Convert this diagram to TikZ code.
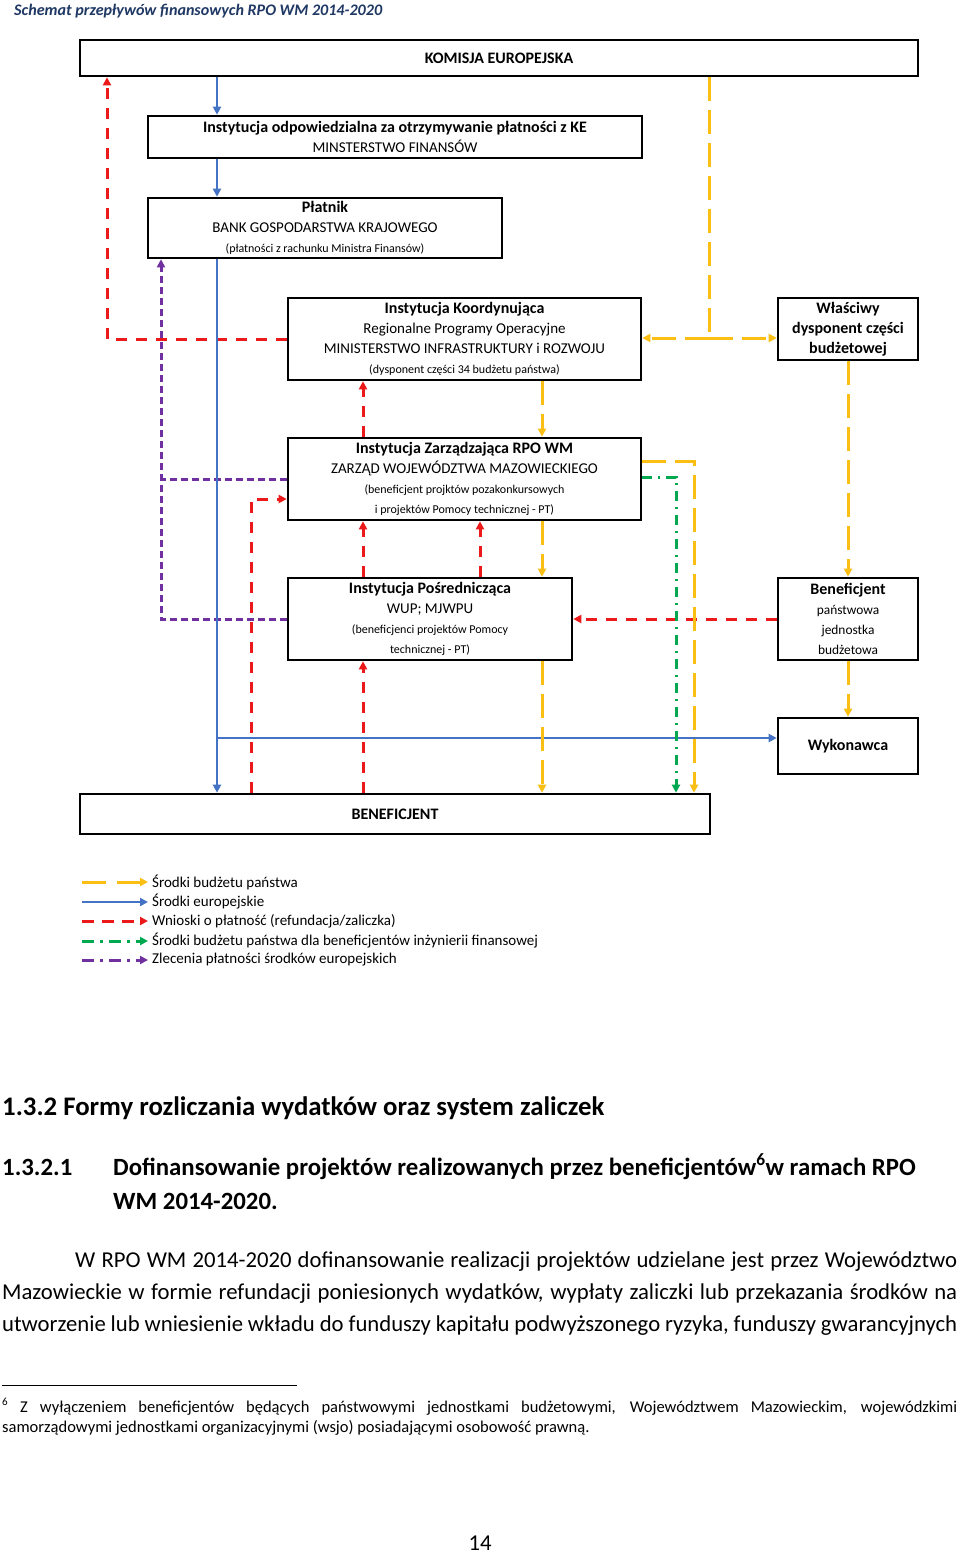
\documentclass[tikz,border=0pt]{standalone}
\usepackage{fontspec}
\setmainfont{Carlito}
\usetikzlibrary{arrows.meta}
\definecolor{cblue}{RGB}{68,114,196}
\definecolor{cred}{RGB}{235,25,25}
\definecolor{cyel}{RGB}{250,190,20}
\definecolor{cgreen}{RGB}{0,168,80}
\definecolor{cpurp}{RGB}{112,48,160}
\definecolor{cnavy}{RGB}{31,56,100}
\newcommand\dgB{\fontsize{16}{20}\selectfont\bfseries}
\newcommand\dgR{\fontsize{15}{20}\selectfont}
\newcommand\dgM{\fontsize{13.4}{20}\selectfont}
\newcommand\dgS{\fontsize{12}{20}\selectfont}
\newcommand\bodyf{\fontsize{22.7}{32}\selectfont}
\newcommand\headf{\fontsize{26.8}{34}\selectfont\bfseries}
\newcommand\headg{\fontsize{24.8}{34}\selectfont\bfseries}
\newcommand\footf{\fontsize{16.5}{20}\selectfont}
\begin{document}
\begin{tikzpicture}[x=1pt,y=-1pt,
  box/.style={draw=black, line width=2.6pt, inner sep=0pt, align=center, font=\dgR},
  tipA/.style={-{Triangle[length=8pt,width=8pt]}},
  eu/.style={cblue, line width=2.4pt, tipA},
  wn/.style={cred, line width=3pt, dash pattern=on 11pt off 9pt, tipA},
  bp/.style={cyel, line width=3pt, dash pattern=on 24pt off 9pt, tipA},
  bif/.style={cgreen, line width=3pt, dash pattern=on 10pt off 6pt on 2pt off 6pt, tipA},
  zp/.style={cpurp, line width=3pt, dash pattern=on 7pt off 4pt, tipA},
  leg/.style={anchor=west, inner sep=0pt, font=\fontsize{15}{18}\selectfont},
  txt/.style={anchor=base west, inner sep=0pt},
]
\fill[white] (0,0) rectangle (960,1553);
\useasboundingbox (0,0) rectangle (960,1553);

% title
\node[txt, font=\fontsize{16.1}{20}\selectfont\bfseries\itshape, text=cnavy] (title) at (14,15) {Schemat przepływów finansowych RPO WM 2014-2020};

% boxes
\node[box, minimum width=838pt, minimum height=36pt, font=\dgB] (ke) at (499,58) {KOMISJA EUROPEJSKA};
\node[box, minimum width=494pt, minimum height=42pt] (io) at (395,137) {{\dgB Instytucja odpowiedzialna za otrzymywanie płatności z KE}\\MINSTERSTWO FINANSÓW};
\node[box, minimum width=354pt, minimum height=60pt] (pl) at (325,228) {{\dgB Płatnik}\\BANK GOSPODARSTWA KRAJOWEGO\\{\dgS (płatności z rachunku Ministra Finansów)}};
\node[box, minimum width=353pt, minimum height=82pt] (ik) at (464.5,339) {{\dgB Instytucja Koordynująca}\\Regionalne Programy Operacyjne\\MINISTERSTWO INFRASTRUKTURY i ROZWOJU\\{\dgS (dysponent części 34 budżetu państwa)}};
\node[box, minimum width=140pt, minimum height=62pt, font=\dgB] (wd) at (848,329) {Właściwy\\dysponent części\\budżetowej};
\node[box, minimum width=353pt, minimum height=82pt] (iz) at (464.5,479) {{\dgB Instytucja Zarządzająca RPO WM}\\ZARZĄD WOJEWÓDZTWA MAZOWIECKIEGO\\{\dgS (beneficjent projktów pozakonkursowych}\\{\dgS i projektów Pomocy technicznej - PT)}};
\node[box, minimum width=284pt, minimum height=82pt] (ip) at (430,619) {{\dgB Instytucja Pośrednicząca}\\WUP; MJWPU\\{\dgS (beneficjenci projektów Pomocy}\\{\dgS technicznej - PT)}};
\node[box, minimum width=140pt, minimum height=82pt] (bj) at (848,619) {{\dgB Beneficjent}\\{\dgM państwowa}\\{\dgM jednostka}\\{\dgM budżetowa}};
\node[box, minimum width=140pt, minimum height=56pt, font=\dgB] (wyk) at (848,746) {Wykonawca};
\node[box, minimum width=630pt, minimum height=40pt, font=\dgB] (ben) at (395,814) {BENEFICJENT};

% reference coordinates
\coordinate (xb) at (217,0);
\coordinate (yw) at (0,738);
\coordinate (xr1) at (107,0);
\coordinate (xr2) at (363,0);
\coordinate (xr3) at (480,0);
\coordinate (xr4) at (251,0);
\coordinate (yr) at (0,499);
\coordinate (xy1) at (709,0);
\coordinate (yk) at (0,338);
\coordinate (xy2) at (542,0);
\coordinate (xy3) at (694,0);
\coordinate (yy) at (0,461);
\coordinate (xg) at (676,0);
\coordinate (yg) at (0,477);
\coordinate (xp) at (161,0);

% purple
\draw[zp] (ip.west) -| (pl.south -| xp);
\draw[zp,-] (iz.west) -- (iz.west -| xp);

% red
\draw[wn] (ik.west) -| (ke.south -| xr1);
\draw[wn] (iz.north -| xr2) -- (ik.south -| xr2);
\draw[wn] (ip.north -| xr2) -- (iz.south -| xr2);
\draw[wn] (ip.north -| xr3) -- (iz.south -| xr3);
\draw[wn] (ben.north -| xr2) -- (ip.south -| xr2);
\draw[wn] (ben.north -| xr4) |- (iz.west |- yr);
\draw[wn] (bj.west) -- (ip.east |- bj.west);

% blue
\draw[eu] (ke.south -| xb) -- (io.north -| xb);
\draw[eu] (io.south -| xb) -- (pl.north -| xb);
\draw[eu] (pl.south -| xb) -- (ben.north -| xb);
\draw[eu] (xb |- yw) -- (wyk.west |- yw);

% yellow
\draw[bp,-] (ke.south -| xy1) -- (xy1 |- yk);
\draw[bp] (xy1 |- yk) -- (ik.east |- yk);
\draw[bp] (xy1 |- yk) -- (wd.west |- yk);
\draw[bp] (ik.south -| xy2) -- (iz.north -| xy2);
\draw[bp] (iz.south -| xy2) -- (ip.north -| xy2);
\draw[bp] (ip.south -| xy2) -- (ben.north -| xy2);
\draw[bp] (iz.east |- yy) -| (ben.north -| xy3);
\draw[bp] (wd.south) -- (bj.north);
\draw[bp] (bj.south) -- (wyk.north);

% green
\draw[bif] (iz.east |- yg) -| (ben.north -| xg);

% legend
\coordinate (la1) at (82,882); \coordinate (lb1) at (148,882);
\coordinate (la2) at (82,902); \coordinate (lb2) at (148,902);
\coordinate (la3) at (82,921); \coordinate (lb3) at (148,921);
\coordinate (la4) at (82,941); \coordinate (lb4) at (148,941);
\coordinate (la5) at (82,960); \coordinate (lb5) at (148,960);
\draw[bp, dash pattern=on 24pt off 11pt] (la1) -- (lb1);
\draw[eu] (la2) -- (lb2);
\draw[wn, dash pattern=on 12pt off 8pt] (la3) -- (lb3);
\draw[bif, dash pattern=on 12pt off 6pt on 3pt off 6pt] (la4) -- (lb4);
\draw[zp, dash pattern=on 12pt off 6pt on 3pt off 6pt] (la5) -- (lb5);
\node[leg] (lt1) at (152,882) {Środki budżetu państwa};
\node[leg] (lt2) at (152,902) {Środki europejskie};
\node[leg] (lt3) at (152,921) {Wnioski o płatność (refundacja/zaliczka)};
\node[leg] (lt4) at (152,941) {Środki budżetu państwa dla beneficjentów inżynierii finansowej};
\node[leg] (lt5) at (152,960) {Zlecenia płatności środków europejskich};

% page text
\node[txt, font=\headf] (h1) at (2,1115) {1.3.2 Formy rozliczania wydatków oraz system zaliczek};
\node[txt, font=\headg] (h2n) at (2,1175) {1.3.2.1};
\node[txt, font=\headg] (h2) at (113,1175) {Dofinansowanie projektów realizowanych przez beneficjentów\textsuperscript{6}w ramach RPO};
\node[txt, font=\headg] (h2b) at (113,1209) {WM 2014-2020.};
\node[txt, font=\bodyf] (p1) at (75,1267) {\makebox[882pt][s]{W RPO WM 2014-2020 dofinansowanie realizacji projektów udzielane jest przez Województwo}};
\node[txt, font=\bodyf] (p2) at (2,1299) {\makebox[955pt][s]{Mazowieckie w formie refundacji poniesionych wydatków, wypłaty zaliczki lub przekazania środków na}};
\node[txt, font=\bodyf] (p3) at (2,1331) {\makebox[955pt][s]{utworzenie lub wniesienie wkładu do funduszy kapitału podwyższonego ryzyka, funduszy gwarancyjnych}};
\draw[line width=0.8pt] (2,1385) -- (297,1385);
\node[txt, font=\fontsize{11}{12}\selectfont] (f0) at (2,1405) {6};
\node[txt, font=\footf] (f1) at (20,1412) {\makebox[937pt][s]{Z wyłączeniem beneficjentów będących państwowymi jednostkami budżetowymi, Województwem Mazowieckim, wojewódzkimi}};
\node[txt, font=\footf] (f2) at (2,1432) {samorządowymi jednostkami organizacyjnymi (wsjo) posiadającymi osobowość prawną.};
\node[anchor=base, inner sep=0pt, font=\bodyf] (pn) at (480,1550) {14};
\end{tikzpicture}
\end{document}
